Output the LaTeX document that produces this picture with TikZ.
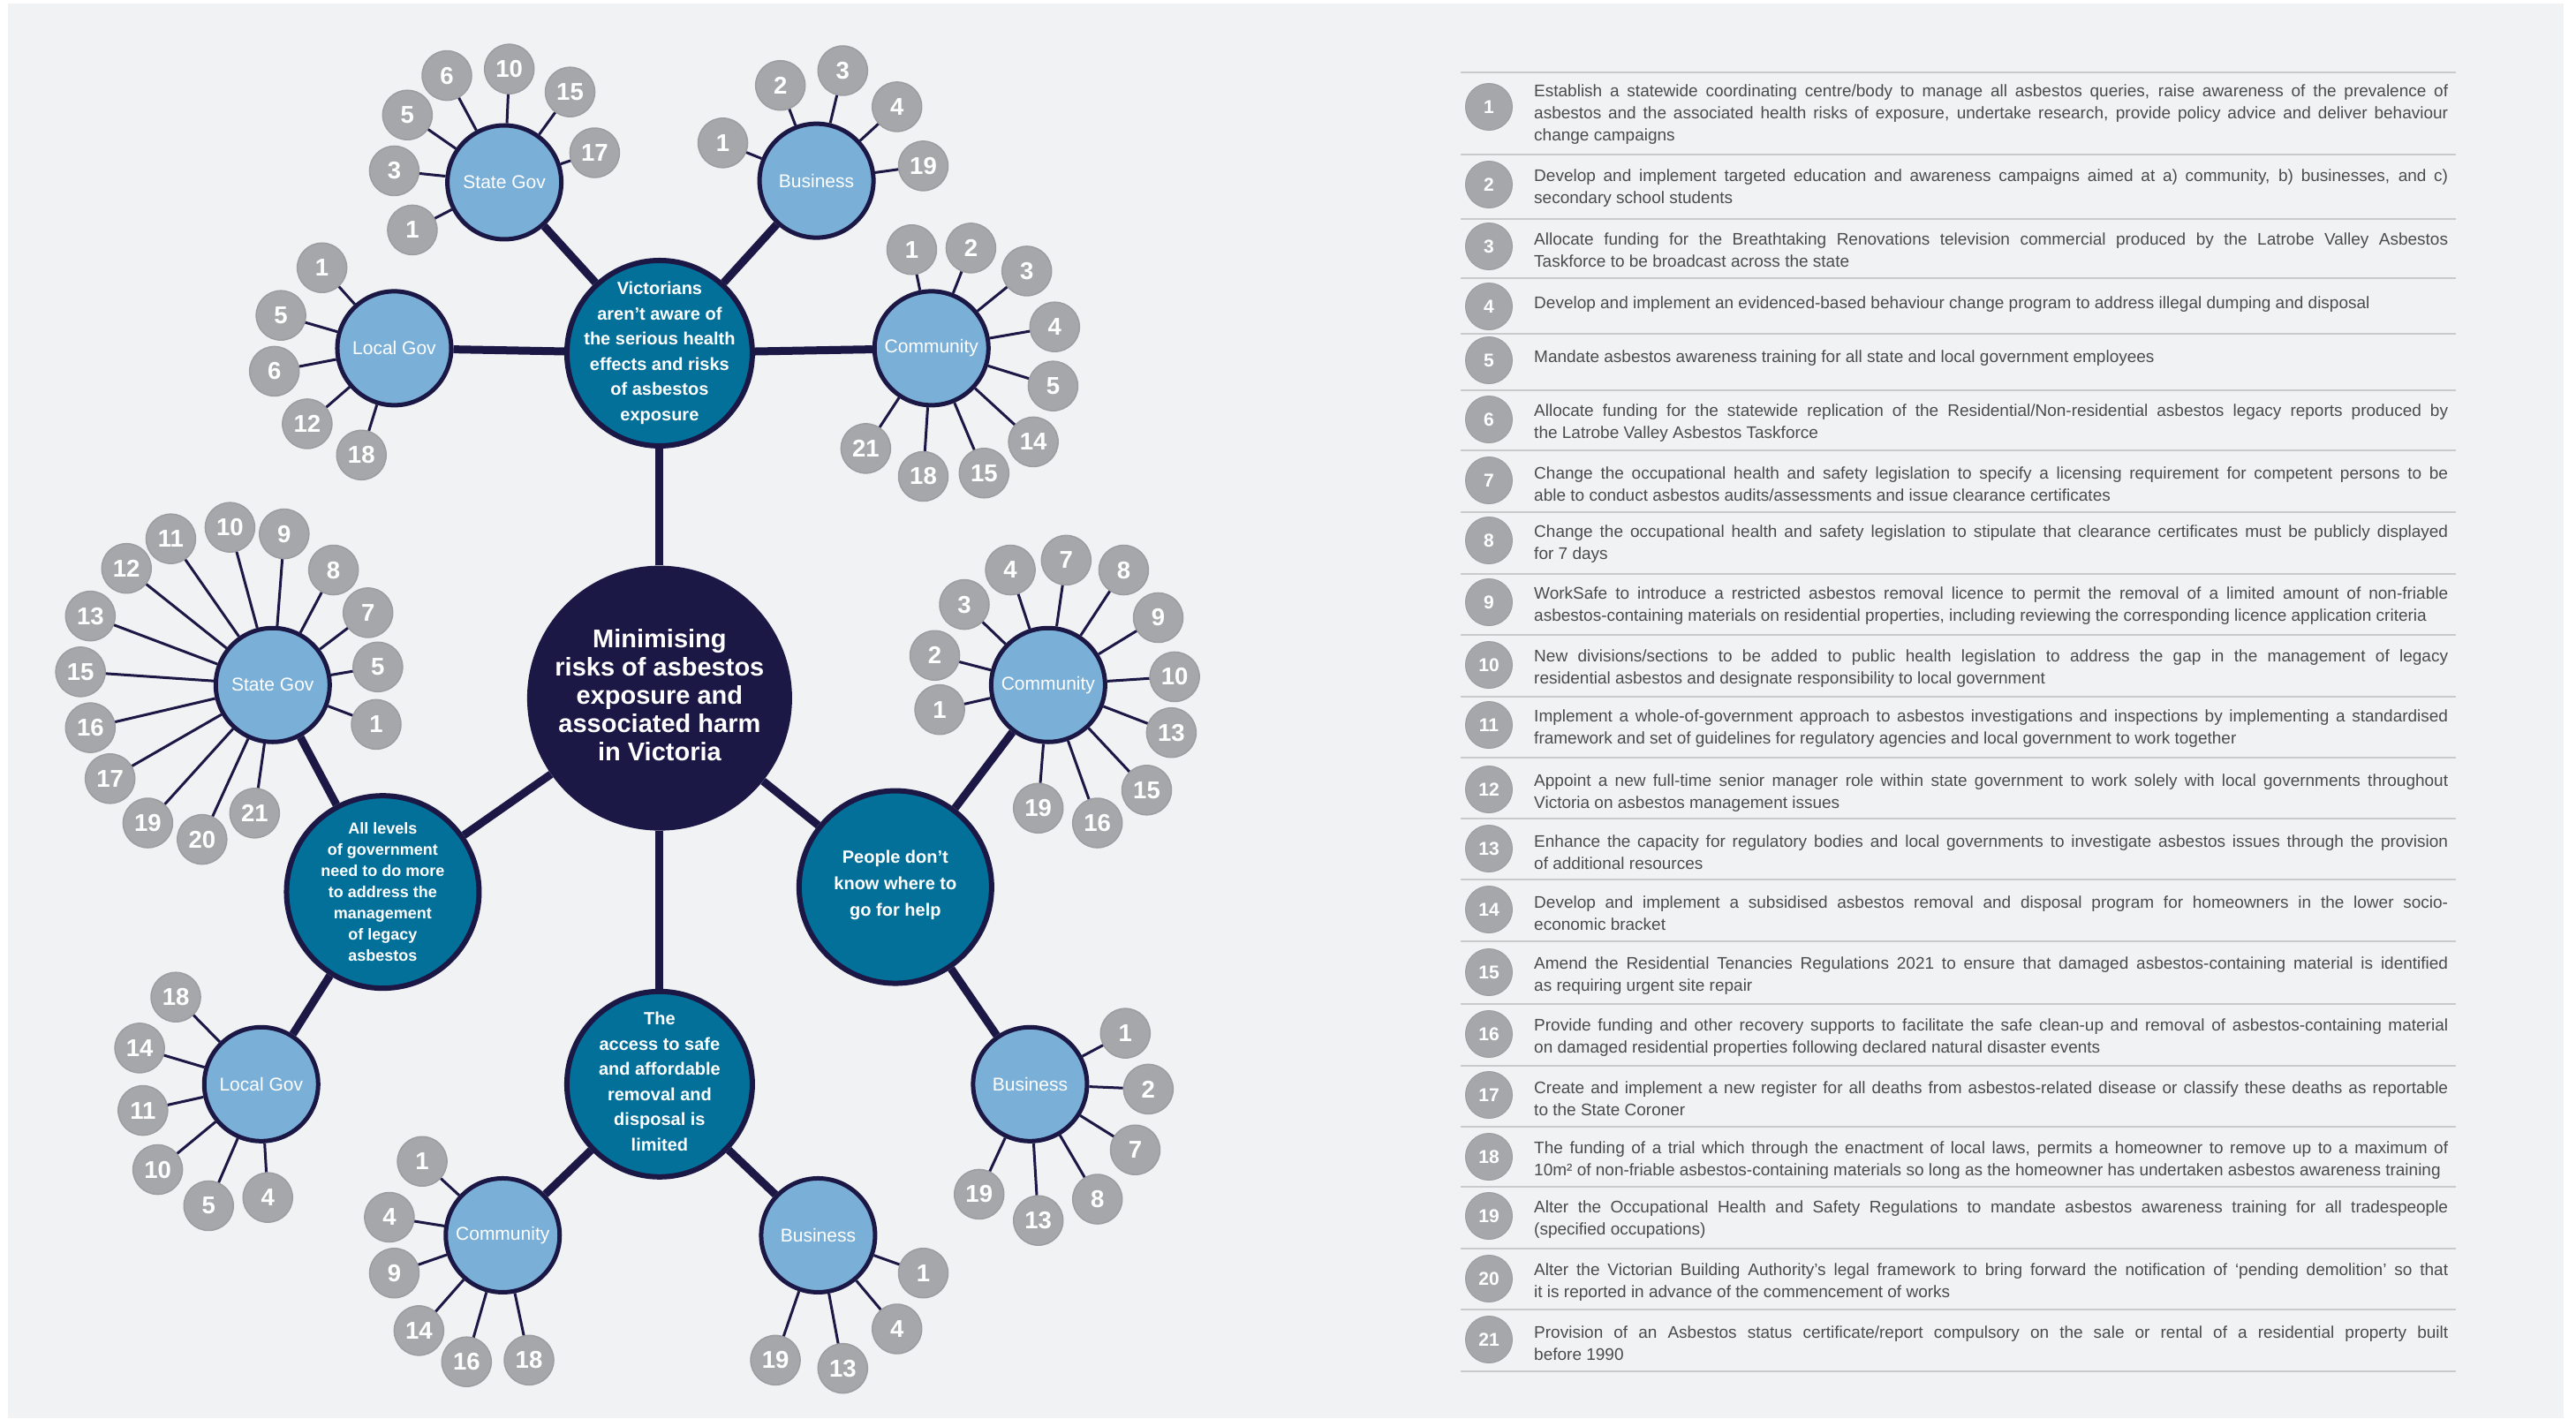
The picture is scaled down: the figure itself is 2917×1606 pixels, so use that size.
\documentclass[tikz,border=0pt]{standalone}
\usepackage{fontspec}
\setmainfont{Liberation Sans}
\definecolor{navy}{HTML}{1B1846}
\definecolor{tealc}{HTML}{03709A}
\definecolor{lblue}{HTML}{7AB0D8}
\definecolor{greyc}{HTML}{A6A7AA}
\definecolor{greyb}{HTML}{9C9DA0}
\definecolor{bgc}{HTML}{F1F2F4}
\definecolor{rulec}{HTML}{C9CACC}
\definecolor{txtc}{HTML}{4B4B4D}
\tikzset{
  num/.style={circle, fill=greyc, draw=greyb, line width=1.5pt, minimum size=56pt, inner sep=0pt, text=white, font=\fontsize{27.5}{27.5}\selectfont\bfseries},
  lnum/.style={circle, fill=greyc, draw=greyb, line width=1pt, minimum size=53pt, inner sep=0pt, text=white, font=\fontsize{21}{21}\selectfont\bfseries},
  sub/.style={circle, fill=lblue, draw=navy, line width=5pt, minimum size=129pt, inner sep=0pt, text=white, font=\fontsize{21}{21}\selectfont},
  issue/.style={circle, fill=tealc, draw=navy, line width=6pt, inner sep=0pt},
  issuetext/.style={align=center, text=white, inner sep=0pt, font=\fontsize{20}{28.5}\selectfont\bfseries},
  hub/.style={circle, fill=navy, minimum size=300pt, inner sep=0pt},
  hubtext/.style={align=center, text=white, inner sep=0pt, font=\fontsize{29}{32}\selectfont\bfseries},
  mainline/.style={draw=navy, line width=9pt},
  spoke/.style={draw=navy, line width=3pt},
  rulel/.style={draw=rulec, line width=2pt},
  ltext/.style={anchor=west, text width=1035pt, align=justify, inner sep=0pt, text=txtc,
    font=\fontsize{19}{25}\selectfont},
}
\newcommand\numspokes[2]{%
  \foreach \n/\px/\py in {#2} {\node[num] (#1-\n) at (\px,\py) {\n}; \draw[spoke] (#1) -- (#1-\n);}}
\newcommand\rec[4]{%
  \node[lnum] (n#1) at (1686,#2) {#1};
  \node[ltext] (t#1) at (1737,#3) {\hyphenpenalty=10000 \tolerance=9999 #4};}
\begin{document}
\begin{tikzpicture}[x=1pt,y=-1pt]
\useasboundingbox (0,0) rectangle (2917,1606);
\fill[white] (0,0) rectangle (2917,1606);
\fill[bgc] (9,4) rectangle (2903,1606);

\begin{scope}[x=1.8603pt,y=-1.8603pt]
  % hub and issues
  \node[hub] (c) at (401.5,425) {};
  \node[hubtext] (ct) at (401.5,423) {Minimising\\risks of asbestos\\exposure and\\associated harm\\in Victoria};
  \node[issue, minimum size=210pt] (vic) at (401.5,215) {};
  \node[issuetext] (vict) at (vic) {Victorians\\aren’t aware of\\the serious health\\effects and risks\\of asbestos\\exposure};
  \node[issue, minimum size=218pt] (lev) at (233,543) {};
  \node[issuetext, font=\fontsize{18}{24}\selectfont\bfseries] (levt) at (lev) {All levels\\of government\\need to do more\\to address the\\management\\of legacy\\asbestos};
  \node[issue, minimum size=218pt] (ppl) at (545,540) {};
  \node[issuetext, font=\fontsize{20}{30}\selectfont\bfseries] (pplt) at (545,539) {People don’t\\know where to\\go for help};
  \node[issue, minimum size=210pt] (acc) at (401.5,660) {};
  \node[issuetext] (acct) at (401.5,658.5) {The\\access to safe\\and affordable\\removal and\\disposal is\\limited};
  \draw[mainline] (c) -- (vic);
  \draw[mainline] (c) -- (lev);
  \draw[mainline] (c) -- (ppl);
  \draw[mainline] (c) -- (acc);

  % sub nodes
  \node[sub] (vsg) at (307,111) {State Gov};
  \node[sub] (vbu) at (497,110) {Business};
  \node[sub] (vlg) at (240,212) {Local Gov};
  \node[sub] (vco) at (567,212) {Community};
  \node[sub] (lsg) at (166,417) {State Gov};
  \node[sub] (llg) at (159,660) {Local Gov};
  \node[sub] (pco) at (638,417) {Community};
  \node[sub] (pbu) at (627,660) {Business};
  \node[sub] (aco) at (306,752) {Community};
  \node[sub] (abu) at (498,752) {Business};
  \foreach \a/\b in {vic/vsg, vic/vbu, vic/vlg, vic/vco, lev/lsg, lev/llg, ppl/pco, ppl/pbu, acc/aco, acc/abu}
    \draw[mainline] (\a) -- (\b);

  % number spokes
  \numspokes{vsg}{6/272/46, 10/310/42, 15/347/56, 5/248/70, 17/362/93, 3/240/104, 1/251/140}
  \numspokes{vbu}{2/475/52, 3/513/43, 4/546/65, 1/440/87, 19/562/101}
  \numspokes{vlg}{1/196/163, 5/171/192, 6/167/226, 12/187/258, 18/220/277}
  \numspokes{vco}{1/555/152, 2/591/151, 3/625/165, 4/642/199, 5/641/235, 14/629/269, 15/599/288, 18/562/290, 21/527/273}
  \numspokes{lsg}{10/140/321, 9/173/325, 11/104/328, 8/203/347, 12/77/346, 7/224/373, 13/55/375, 5/230/406, 15/49/409, 1/229/441, 16/55/443, 17/67/474, 21/155/495, 19/90/501, 20/123/511}
  \numspokes{llg}{18/107/607, 14/85/638, 11/87/676, 10/96/712, 5/127/734, 4/163/729}
  \numspokes{pco}{4/615/347, 7/649/341, 8/684/347, 3/587/368, 9/705/376, 2/569/399, 10/715/412, 1/572/432, 13/713/446, 15/698/481, 19/632/492, 16/668/501}
  \numspokes{pbu}{1/685/629, 2/699/663, 7/691/700, 8/668/730, 19/596/727, 13/632/743}
  \numspokes{aco}{1/257/707, 4/237/741, 9/240/775, 14/255/810, 16/284/829, 18/322/828}
  \numspokes{abu}{1/562/775, 4/546/809, 19/472/828, 13/513/833}
\end{scope}

% list
\foreach \ry in {82,175,248,315,378,442,510,580,650,719,789,858,927,996,1066,1137,1207,1276,1344,1414,1483,1553}
  \draw[rulel] (1654,\ry) -- (2781,\ry);

\rec{1}{121}{130}{Establish a statewide coordinating centre/body to manage all asbestos queries, raise awareness of the prevalence of\linebreak asbestos and the associated health risks of exposure, undertake research, provide policy advice and deliver behaviour\linebreak change campaigns}
\rec{2}{209}{213}{Develop and implement targeted education and awareness campaigns aimed at a) community, b) businesses, and c)\linebreak secondary school students}
\rec{3}{279}{283}{Allocate funding for the Breathtaking Renovations television commercial produced by the Latrobe Valley Asbestos\linebreak Taskforce to be broadcast across the state}
\rec{4}{347}{345}{Develop and implement an evidenced-based behaviour change program to address illegal dumping and disposal}
\rec{5}{408}{406}{Mandate asbestos awareness training for all state and local government employees}
\rec{6}{475}{479}{Allocate funding for the statewide replication of the Residential/Non-residential asbestos legacy reports produced by\linebreak the Latrobe Valley Asbestos Taskforce}
\rec{7}{544}{548}{Change the occupational health and safety legislation to specify a licensing requirement for competent persons to be\linebreak able to conduct asbestos audits/assessments and issue clearance certificates}
\rec{8}{612}{616}{Change the occupational health and safety legislation to stipulate that clearance certificates must be publicly displayed\linebreak for 7 days}
\rec{9}{682}{686}{WorkSafe to introduce a restricted asbestos removal licence to permit the removal of a limited amount of non-friable\linebreak asbestos-containing materials on residential properties, including reviewing the corresponding licence application criteria}
\rec{10}{753}{757}{New divisions/sections to be added to public health legislation to address the gap in the management of legacy\linebreak residential asbestos and designate responsibility to local government}
\rec{11}{821}{825}{Implement a whole-of-government approach to asbestos investigations and inspections by implementing a standardised\linebreak framework and set of guidelines for regulatory agencies and local government to work together}
\rec{12}{894}{898}{Appoint a new full-time senior manager role within state government to work solely with local governments throughout\linebreak Victoria on asbestos management issues}
\rec{13}{961}{965}{Enhance the capacity for regulatory bodies and local governments to investigate asbestos issues through the provision\linebreak of additional resources}
\rec{14}{1030}{1034}{Develop and implement a subsidised asbestos removal and disposal program for homeowners in the lower socio-\linebreak economic bracket}
\rec{15}{1101}{1105}{Amend the Residential Tenancies Regulations 2021 to ensure that damaged asbestos-containing material is identified\linebreak as requiring urgent site repair}
\rec{16}{1171}{1175}{Provide funding and other recovery supports to facilitate the safe clean-up and removal of asbestos-containing material\linebreak on damaged residential properties following declared natural disaster events}
\rec{17}{1240}{1244}{Create and implement a new register for all deaths from asbestos-related disease or classify these deaths as reportable\linebreak to the State Coroner}
\rec{18}{1310}{1314}{The funding of a trial which through the enactment of local laws, permits a homeowner to remove up to a maximum of\linebreak 10m² of non-friable asbestos-containing materials so long as the homeowner has undertaken asbestos awareness training}
\rec{19}{1377}{1381}{Alter the Occupational Health and Safety Regulations to mandate asbestos awareness training for all tradespeople\linebreak (specified occupations)}
\rec{20}{1448}{1452}{Alter the Victorian Building Authority’s legal framework to bring forward the notification of ‘pending demolition’ so that\linebreak it is reported in advance of the commencement of works}
\rec{21}{1517}{1521}{Provision of an Asbestos status certificate/report compulsory on the sale or rental of a residential property built\linebreak before 1990}
\end{tikzpicture}
\end{document}
